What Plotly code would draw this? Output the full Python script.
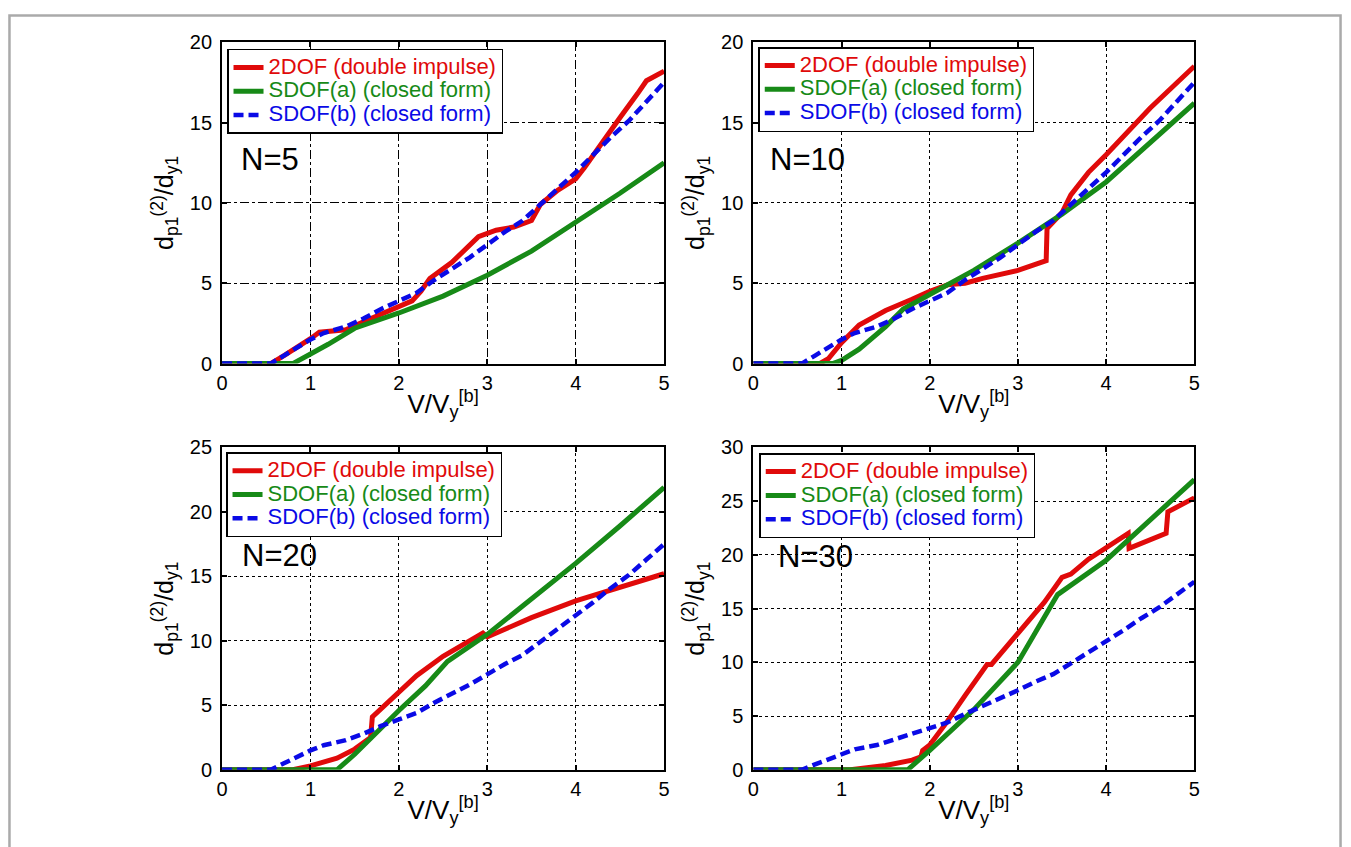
import plotly.graph_objects as go

# ---------------- data ----------------
v_labels = ["N=5", "N=10", "N=20", "N=30"]
y_max = [20, 20, 25, 30]

# SDOF(b) closed form (identical in every panel)
x_sdof_b = [0, 0.55, 0.7, 1.0, 1.15, 1.4, 1.6, 1.8, 2.0, 2.2, 2.4, 2.6, 2.8, 3.0,
            3.2, 3.4, 3.6, 3.8, 4.0, 4.2, 4.4, 4.6, 4.8, 5.0]
y_sdof_b = [0, 0, 0.5, 1.5, 1.9, 2.3, 2.8, 3.4, 3.9, 4.4, 5.2, 5.9, 6.6, 7.4,
            8.2, 8.9, 9.9, 10.9, 11.9, 13.0, 14.1, 15.1, 16.3, 17.5]

# N=5
x_2dof_n5 = [0, 0.55, 0.7, 0.85, 1.0, 1.1, 1.25, 1.4, 1.6, 1.8, 2.0, 2.15, 2.25, 2.35,
             2.6, 2.8, 2.9, 3.1, 3.3, 3.5, 3.6, 3.8, 4.0, 4.1, 4.3, 4.5, 4.7, 4.8, 5.0]
y_2dof_n5 = [0, 0, 0.5, 1.0, 1.55, 1.95, 2.05, 2.1, 2.6, 3.1, 3.6, 3.9, 4.5, 5.3,
             6.3, 7.4, 7.9, 8.3, 8.5, 8.9, 9.9, 10.8, 11.5, 12.2, 13.8, 15.3, 16.8, 17.6, 18.2]
x_sdof_a_n5 = [0, 0.8, 1.0, 1.2, 1.5, 2.0, 2.5, 3.0, 3.5, 4.0, 4.5, 5.0]
y_sdof_a_n5 = [0, 0, 0.6, 1.2, 2.2, 3.15, 4.2, 5.5, 7.0, 8.8, 10.6, 12.5]

# N=10
x_2dof_n10 = [0, 0.75, 0.85, 1.0, 1.2, 1.5, 1.8, 2.0, 2.2, 2.4, 2.6, 3.0, 3.32, 3.33,
              3.5, 3.6, 3.8, 4.0, 4.5, 5.0]
y_2dof_n10 = [0, 0, 0.3, 1.3, 2.4, 3.3, 4.0, 4.5, 4.9, 5.0, 5.3, 5.8, 6.4, 8.4,
              9.4, 10.5, 11.9, 13.0, 15.9, 18.5]
x_sdof_a_n10 = [0, 0.9, 1.0, 1.2, 1.5, 1.7, 2.0, 2.5, 3.0, 3.5, 4.0, 4.5, 5.0]
y_sdof_a_n10 = [0, 0, 0.2, 0.9, 2.3, 3.4, 4.3, 5.8, 7.5, 9.3, 11.3, 13.7, 16.2]

# N=20
x_2dof_n20 = [0, 0.8, 1.0, 1.3, 1.5, 1.68, 1.7, 2.0, 2.2, 2.5, 2.7, 2.95, 3.0,
              3.5, 4.0, 4.5, 5.0]
y_2dof_n20 = [0, 0, 0.3, 0.9, 1.6, 2.5, 4.1, 6.0, 7.3, 8.8, 9.6, 10.6, 10.3,
              11.8, 13.1, 14.2, 15.2]
x_sdof_a_n20 = [0, 1.3, 1.5, 1.7, 2.0, 2.3, 2.55, 3.0, 3.5, 4.0, 4.5, 5.0]
y_sdof_a_n20 = [0, 0, 1.2, 2.6, 4.6, 6.5, 8.4, 10.5, 13.2, 16.0, 18.9, 21.9]

# N=30
x_2dof_n30 = [0, 1.1, 1.5, 1.8, 1.9, 1.92, 2.0, 2.2, 2.4, 2.65, 2.7, 3.0, 3.3, 3.5,
              3.6, 3.8, 4.0, 4.25, 4.26, 4.5, 4.68, 4.7, 5.0]
y_2dof_n30 = [0, 0, 0.4, 0.9, 1.2, 1.8, 2.3, 4.5, 6.9, 9.8, 9.8, 12.7, 15.6, 17.9,
              18.2, 19.6, 20.7, 22.0, 20.6, 21.4, 22.0, 24.0, 25.3]
x_sdof_a_n30 = [0, 1.75, 2.0, 2.5, 3.0, 3.45, 4.0, 4.5, 5.0]
y_sdof_a_n30 = [0, 0, 1.8, 5.6, 10.0, 16.3, 19.5, 23.2, 27.0]

series_names = ["2DOF (double impulse)", "SDOF(a) (closed form)", "SDOF(b) (closed form)"]

# ---------------- style ----------------
RED = "#e00a0a"
GREEN = "#178a17"
BLUE = "#0a0ae6"
FONT = "Liberation Sans, Arial, sans-serif"
W, H = 1351, 847

panels = [
    (x_2dof_n5, y_2dof_n5, x_sdof_a_n5, y_sdof_a_n5),
    (x_2dof_n10, y_2dof_n10, x_sdof_a_n10, y_sdof_a_n10),
    (x_2dof_n20, y_2dof_n20, x_sdof_a_n20, y_sdof_a_n20),
    (x_2dof_n30, y_2dof_n30, x_sdof_a_n30, y_sdof_a_n30),
]

# pixel boxes of the plot areas (left, right, top, bottom)
boxes = [(218, 664, 32, 362), (754, 1199, 32, 362),
         (218, 664, 448, 779), (754, 1199, 448, 779)]
legend_pos = [(223, 39), (759, 37), (222, 453), (760, 454)]
label_pos = [(0.038, 0.636), (0.034, 0.636), (0.04, 0.665), (0.052, 0.66)]

fig = go.Figure()
layout = dict(
    autosize=True,
    margin=dict(l=0, r=0, t=0, b=0),
    paper_bgcolor="white", plot_bgcolor="white",
    font=dict(family=FONT, size=20, color="black"),
    annotations=[], shapes=[],
)

for i, (xr, yr, xg, yg) in enumerate(panels):
    k = "" if i == 0 else str(i + 1)
    xa, ya = "x" + k, "y" + k
    lg = "legend" + k
    colors = [RED, GREEN, BLUE]
    xs = [xr, xg, x_sdof_b]
    ys = [yr, yg, y_sdof_b]
    for j in range(3):
        fig.add_trace(go.Scatter(
            x=xs[j], y=ys[j], mode="lines",
            name="<span style='color:%s;font-size:22px'>%s</span>" % (colors[j], series_names[j]),
            line=dict(color=colors[j], width=5 if j < 2 else 4.5,
                      dash="solid" if j < 2 else "10px,5px"),
            xaxis=xa, yaxis=ya, legend=lg, showlegend=True, hoverinfo="skip",
        ))
    l, r, t, b = boxes[i]
    grid_dash = "dashdot" if i == 0 else "dot"
    layout["xaxis" + k] = dict(
        domain=[l / W, r / W], anchor=ya, range=[0, 5], dtick=1,
        showline=True, linecolor="black", linewidth=2, mirror="allticks",
        ticks="inside", ticklen=5, tickwidth=1.5, tickcolor="black",
        showgrid=True, gridcolor="black", gridwidth=1, griddash=grid_dash,
        zeroline=False, tickfont=dict(size=20), ticklabelstandoff=0,
        title=dict(text="V/V<sub>y</sub><sup>[b]</sup>", font=dict(size=26), standoff=2),
    )
    layout["yaxis" + k] = dict(
        domain=[1 - b / H, 1 - t / H], anchor=xa, range=[0, y_max[i]], dtick=5,
        showline=True, linecolor="black", linewidth=2, mirror="allticks",
        ticks="inside", ticklen=5, tickwidth=1.5, tickcolor="black",
        showgrid=True, gridcolor="black", gridwidth=1, griddash=grid_dash,
        zeroline=False, tickfont=dict(size=20), ticklabelstandoff=4,
        title=dict(text="d<sub>p1</sub><sup>(2)</sup>/d<sub>y1</sub>", font=dict(size=25), standoff=9),
    )
    lx, ly = legend_pos[i]
    layout[lg] = dict(
        x=lx / W, y=1 - ly / H, xanchor="left", yanchor="top",
        bgcolor="white", bordercolor="black", borderwidth=1.5,
        font=dict(size=16, family=FONT), itemwidth=30, tracegroupgap=0,
        traceorder="normal",
    )
    ax, ay = label_pos[i]
    layout["annotations"].append(dict(
        text=v_labels[i], xref=xa + " domain", yref=ya + " domain",
        x=ax, y=ay, xanchor="left", yanchor="middle", showarrow=False,
        font=dict(size=31, family=FONT, color="black"),
    ))

# light grey frame of the picture
layout["shapes"].append(dict(
    type="rect", xref="paper", yref="paper",
    x0=3.5 / W, x1=1346.5 / W, y0=-0.05, y1=1 - 4.5 / H,
    line=dict(color="#aaaaaa", width=2.5), fillcolor="rgba(0,0,0,0)", layer="below",
))

fig.update_layout(**layout)
fig.write_html(
    "out.html",
    config={"displayModeBar": False, "responsive": True},
    default_width="100vw", default_height="100vh",
    post_script="document.body.style.margin='0';document.body.style.overflow='hidden';",
)
